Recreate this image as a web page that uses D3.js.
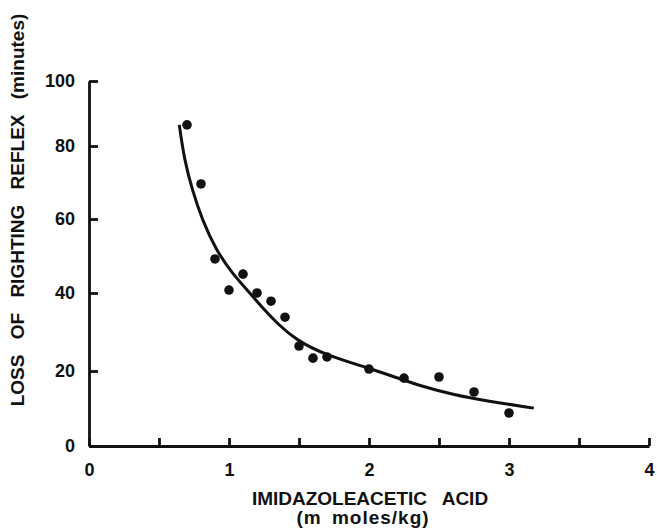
<!DOCTYPE html>
<html>
<head>
<meta charset="utf-8">
<script src="https://cdn.jsdelivr.net/npm/d3@7"></script>
<style>
  body { margin: 0; background: #fff; }
  svg { display: block; }
  .axis path, .axis line { stroke: #111; stroke-width: 2.8px; }
  .axis text { font-family: "Liberation Sans", Arial, sans-serif; font-weight: bold; font-size: 18px; fill: #111; }
  .label { font-family: "Liberation Sans", Arial, sans-serif; font-weight: bold; fill: #111; }
</style>
</head>
<body>
<svg id="chart" width="657" height="530"></svg>
<script>
// measured points (dose in mmol/kg, minutes)
let doses = [0.7, 0.8, 0.9, 1.0, 1.1, 1.2, 1.3, 1.4, 1.5, 1.6, 1.7, 2.0, 2.25, 2.5, 2.75, 3.0];
let minutes = [86.5, 69.6, 49.2, 40.8, 45.1, 40, 37.9, 33.8, 26.4, 23.3, 23.6, 20.5, 18.1, 18.4, 14.4, 8.8];

// fitted curve
let curveX = [0.645, 0.681, 0.738, 0.809, 0.908, 1.021, 1.142, 1.234, 1.355, 1.482, 1.688, 1.993, 2.184, 2.369, 2.61, 2.844, 3.177];
let curveY = [86.5, 76.2, 67.9, 59.7, 51.6, 45.4, 40.3, 36.4, 31.8, 27.9, 24.1, 20.8, 18.4, 16.0, 13.6, 12.0, 10.1];

let xTickValues = [0, 0.5, 1, 1.5, 2, 2.5, 3, 3.5, 4];
let yTickValues = [0, 20, 40, 60, 80, 100];

let svg = d3.select('#chart');

let sx = d3.scaleLinear().domain([0, 4]).range([89, 649]);
// the printed axis is slightly compressed toward the top, so follow the tick marks
let sy = d3.scaleLinear().domain(yTickValues).range([446, 371, 293, 219, 146, 81]);

let x_axis = d3.axisBottom(sx)
  .tickValues(xTickValues)
  .tickSizeInner(-8).tickSizeOuter(0).tickPadding(17)
  .tickFormat(d => Number.isInteger(d) ? d : '');

let y_axis = d3.axisLeft(sy)
  .tickValues(yTickValues)
  .tickSizeInner(-9).tickSizeOuter(0).tickPadding(14);

svg.append('g')
  .attr('class', 'x axis')
  .attr('transform', `translate(0,${sy(0)})`)
  .call(x_axis);

svg.append('g')
  .attr('class', 'y axis')
  .attr('transform', `translate(${sx(0)},0)`)
  .call(y_axis);

let line = d3.line()
  .x(d => sx(d[0]))
  .y(d => sy(d[1]))
  .curve(d3.curveBasis);

svg.append('path')
  .datum(d3.zip(curveX, curveY))
  .attr('d', line)
  .attr('fill', 'none')
  .attr('stroke', '#111')
  .attr('stroke-width', 3);

svg.append('g')
  .selectAll('circle')
  .data(d3.zip(doses, minutes))
  .join('circle')
    .attr('cx', d => sx(d[0]))
    .attr('cy', d => sy(d[1]))
    .attr('r', 4.8)
    .attr('fill', '#111');

svg.append('text')
  .attr('class', 'label')
  .attr('x', 370).attr('y', 505)
  .attr('text-anchor', 'middle')
  .style('font-size', '19px')
  .style('word-spacing', '10px')
  .text('IMIDAZOLEACETIC ACID');

svg.append('text')
  .attr('class', 'label')
  .attr('x', 363).attr('y', 524)
  .attr('text-anchor', 'middle')
  .style('font-size', '19px')
  .style('letter-spacing', '1px')
  .style('word-spacing', '4px')
  .text('(m moles/kg)');

svg.append('text')
  .attr('class', 'label')
  .attr('transform', 'translate(24,210) rotate(-90)')
  .attr('text-anchor', 'middle')
  .style('font-size', '19px')
  .style('word-spacing', '10px')
  .text('LOSS OF RIGHTING REFLEX (minutes)');
</script>
</body>
</html>
